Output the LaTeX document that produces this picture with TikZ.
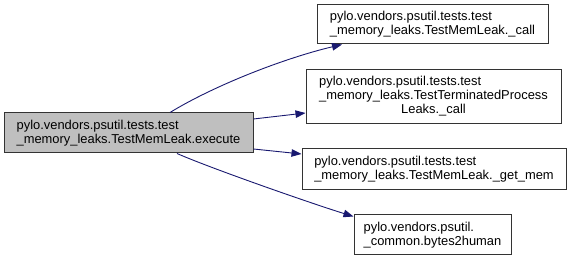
\documentclass[tikz,border=0pt]{standalone}
\usepackage{fontspec}
\setmainfont{Liberation Sans}
\usetikzlibrary{arrows.meta}
\definecolor{edgeblue}{HTML}{191970}
\definecolor{nodegray}{HTML}{BFBFBF}
\begin{document}
\begin{tikzpicture}[x=1pt,y=-1pt,
  fn/.style={draw=black!80, line width=1pt, rectangle, align=left, inner sep=0pt,
    font=\fontsize{12.9}{14}\selectfont},
  call/.style={draw=edgeblue, line width=0.9pt,
    -{Triangle[length=10pt,width=7.5pt]}}]
\useasboundingbox (0,0) rectangle (571,261);

\node[fn, fill=nodegray, minimum width=249pt, minimum height=40pt] (exec) at (128.5,133)
  {pylo.vendors.psutil.tests.test\\\_memory\_leaks.TestMemLeak.execute};

\node[fn, fill=white, minimum width=231pt, minimum height=39pt] (memcall) at (432.5,24.5)
  {pylo.vendors.psutil.tests.test\\\_memory\_leaks.TestMemLeak.\_call};

\node[fn, fill=white, minimum width=255pt, minimum height=54pt] (termcall) at (433.5,97)
  {\begin{tabular}{@{}l@{}}pylo.vendors.psutil.tests.test\\
   \_memory\_leaks.TestTerminatedProcess\\
   \multicolumn{1}{@{}c@{}}{Leaks.\_call}\end{tabular}};

\node[fn, fill=white, minimum width=264pt, minimum height=41pt] (getmem) at (434,169.5)
  {pylo.vendors.psutil.tests.test\\\_memory\_leaks.TestMemLeak.\_get\_mem};

\node[fn, fill=white, minimum width=157pt, minimum height=40pt] (b2h) at (432.5,235)
  {pylo.vendors.psutil.\\\_common.bytes2human};

\draw[call] ([xshift=41.5pt]exec.north) .. controls (215,85) and (285,58) .. ([xshift=-90.5pt]memcall.south);
\draw[call] ([yshift=14pt]exec.east) -- ([yshift=-16pt]termcall.west);
\draw[call] ([yshift=-16pt]exec.east) -- ([yshift=15.5pt]getmem.west);
\draw[call] ([xshift=48.5pt]exec.south) .. controls (210,168) and (310,203) .. ([yshift=-2pt]b2h.north west);
\end{tikzpicture}
\end{document}
